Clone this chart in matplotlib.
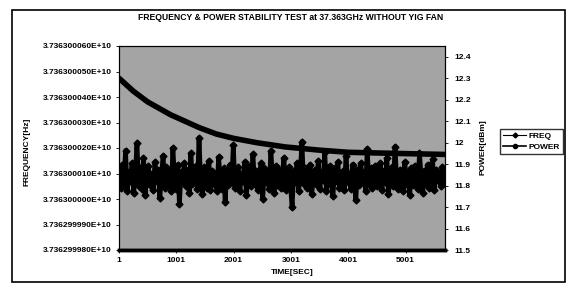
import numpy as np
import matplotlib
matplotlib.use('Agg')
import matplotlib.pyplot as plt
from matplotlib.lines import Line2D
from matplotlib.patches import Rectangle
from matplotlib.ticker import FuncFormatter

plt.rcParams['font.family'] = ['Liberation Sans', 'DejaVu Sans']
plt.rcParams['font.weight'] = 'bold'
plt.rcParams['path.simplify'] = False

# power [dBm] at some times [sec]
power_time = [1, 250, 500, 700, 900, 1150, 1400, 1700, 2000, 2400, 2900, 3500, 4000, 4800, 5690]
power_dbm = [12.30, 12.24, 12.19, 12.16, 12.13, 12.10, 12.07, 12.04, 12.02, 12.00, 11.98,
             11.965, 11.955, 11.95, 11.945]

# frequency offset from 37.363 GHz [Hz], sampled along the run
freq_base = 37363000000
freq_offset = [
    110, 45, 135, 60, 190, 30, 105, 70, 140, 25, 95, 220, 50, 120, 40, 160, 15, 85, 130, 55,
    100, 35, 145, 70, 115, 5, 90, 170, 45, 125, 60, 110, 30, 200, 75, 40, 135, -20, 105, 65,
    140, 50, 115, 25, 180, 60, 95, 130, 40, 240, 70, 20, 125, 85, 45, 150, 35, 110, 60, 100,
    30, 165, 75, 40, 120, -10, 105, 55, 135, 65, 210, 45, 90, 125, 30, 100, 70, 145, 15, 85,
    130, 50, 175, 60, 110, 35, 95, 140, 0, 120, 65, 105, 40, 190, 75, 25, 130, 55, 115, 45,
    100, 160, 35, 85, 125, 50, -30, 110, 65, 140, 30, 100, 225, 60, 120, 45, 90, 135, 20, 80,
    115, 55, 150, 40, 105, 75, 185, 30, 95, 130, 60, 10, 120, 70, 145, 45, 85, 110, 35, 170,
    65, 100, 40, 135, 85, -5, 115, 55, 140, 75, 105, 30, 195, 60, 120, 45, 100, 130, 50, 90,
    140, 35, 110, 65, 160, 20, 95, 125, 50, 205, 75, 40, 115, 85, 30, 145, 60, 105, 15, 120,
    55, 130, 70, 40, 180, 85, 25, 110, 60, 135, 45, 95, 155, 35, 115, 75, 100, 50, 125, 65,
]
freq_time = 1 + np.arange(len(freq_offset)) * 28.5
freq_hz = [freq_base + v for v in freq_offset]

time_ticks = [1, 1001, 2001, 3001, 4001, 5001]
power_ticks = [11.5, 11.6, 11.7, 11.8, 11.9, 12.0, 12.1, 12.2, 12.3, 12.4]
freq_ticks = [freq_base + v for v in range(-200, 601, 100)]

W, H = 568, 289
fig = plt.figure(figsize=(W / 100, H / 100), dpi=100)
fig.patch.set_facecolor('white')

ax = fig.add_axes([119 / W, 1 - 250 / H, (445 - 119) / W, (250 - 46) / H])
ax.set_facecolor('#a4a4a4')
ax.plot(freq_time, freq_hz, color='black', lw=3.4, marker='D', ms=3.5, zorder=3)
ax.set_xlim(1, 5690)
ax.set_ylim(freq_ticks[0], freq_ticks[-1])
ax.set_yticks(freq_ticks)
ax.yaxis.set_major_formatter(FuncFormatter(lambda v, p: '{:.9E}'.format(v)))
ax.set_xticks(time_ticks)
ax.tick_params(labelsize=6, length=2, width=0.6, pad=3)
ax.spines['bottom'].set_linewidth(2.5)

ax2 = ax.twinx()
ax2.plot(power_time, power_dbm, color='black', lw=4, solid_capstyle='round', zorder=3)
ax2.set_ylim(11.5, 12.45)
ax2.set_yticks(power_ticks)
ax2.yaxis.set_major_formatter(FuncFormatter(lambda v, p: '{:g}'.format(round(v, 1))))
ax2.tick_params(labelsize=6, length=2, width=0.6, pad=5)
for sp in ['left', 'right', 'top']:
    ax.spines[sp].set_linewidth(0.8)
    ax2.spines[sp].set_linewidth(0.8)
ax2.spines['bottom'].set_linewidth(2.5)

fig.text(291 / W, 1 - 17 / H, 'FREQUENCY & POWER STABILITY TEST at 37.363GHz WITHOUT YIG FAN',
         ha='center', va='center', fontsize=6.2, fontweight='bold')
fig.text(27 / W, 1 - 152 / H, 'FREQUENCY[Hz]', rotation=90, ha='center', va='center',
         fontsize=6, fontweight='bold')
fig.text(483 / W, 1 - 147 / H, 'POWER[dBm]', rotation=90, ha='center', va='center',
         fontsize=6, fontweight='bold')
fig.text(292 / W, 1 - 273 / H, 'TIME[SEC]', ha='center', va='center',
         fontsize=6, fontweight='bold')

handles = [Line2D([], [], color='black', lw=0.8, marker='D', ms=2.5),
           Line2D([], [], color='black', lw=1.2, marker='o', ms=3)]
fig.legend(handles, ['FREQ', 'POWER'], loc='upper left', bbox_to_anchor=(500 / W, 1 - 129 / H),
           fontsize=6, frameon=True, fancybox=False, edgecolor='black', handlelength=2.8,
           handletextpad=0.3, borderpad=0.35, labelspacing=0.4, borderaxespad=0)

fig.patches.append(Rectangle((12 / W, 1 - 282 / H), (565 - 12) / W, (282 - 10) / H,
                             transform=fig.transFigure, fill=False, edgecolor='black', lw=1.2))

fig.savefig('out.png', dpi=100)
